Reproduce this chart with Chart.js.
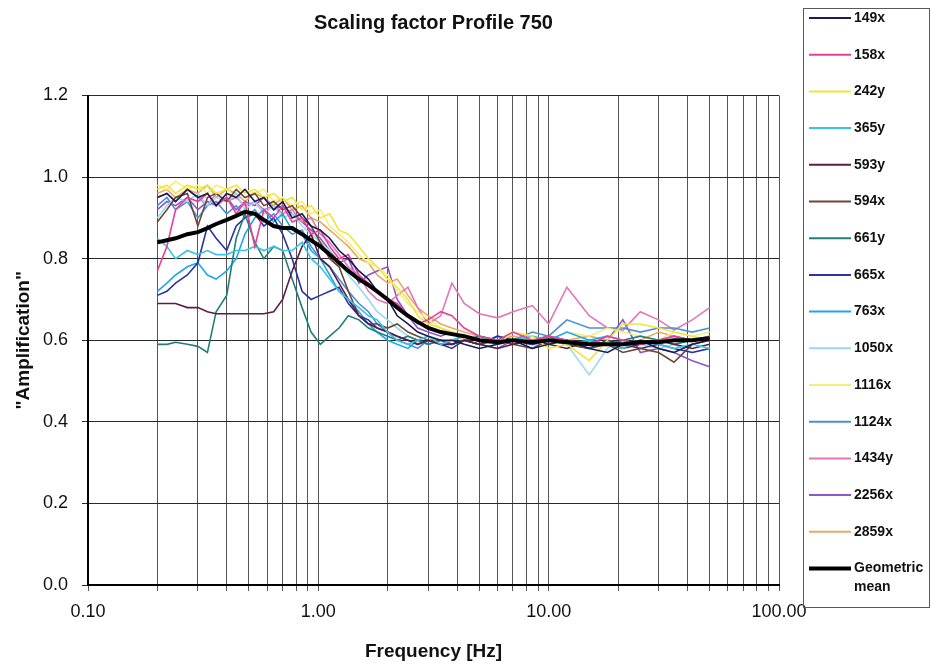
<!DOCTYPE html>
<html>
<head>
<meta charset="utf-8">
<title>Scaling factor Profile 750</title>
<script src="https://cdn.jsdelivr.net/npm/chart.js@4.4.1/dist/chart.umd.min.js"></script>
<style>
  html, body { margin: 0; padding: 0; background: #fff; }
  #wrap { position: relative; width: 931px; height: 666px; }
</style>
</head>
<body>
<div id="wrap"><canvas id="profileChart"></canvas></div>
<script>
// frequencies shared by every record [Hz]
const freq = [0.20,0.22,0.24,0.27,0.30,0.33,0.36,0.40,0.44,0.48,
  0.53,0.58,0.64,0.70,0.77,0.85,0.93,1.02,1.12,1.23,
  1.35,1.5,1.65,1.8,2.0,2.2,2.45,2.7,3.0,3.4,
  3.8,4.3,5.0,6.0,7.0,8.5,10,12,15,18,
  21,25,30,35,42,50];

const seriesNames = ['149x','158x','242y','365y','593y','594x','661y','665x',
  '763x','1050x','1116x','1124x','1434y','2256x','2859x'];

// amplification per record
const s149x = [0.95,0.96,0.94,0.97,0.95,0.96,0.93,0.96,0.95,0.97,
  0.94,0.95,0.92,0.94,0.90,0.91,0.88,0.87,0.85,0.82,
  0.80,0.77,0.75,0.72,0.70,0.66,0.64,0.62,0.61,0.60,
  0.60,0.59,0.58,0.59,0.60,0.58,0.59,0.60,0.58,0.57,
  0.59,0.60,0.58,0.57,0.59,0.60];
const s158x = [0.77,0.83,0.92,0.95,0.94,0.96,0.93,0.95,0.91,0.94,
  0.83,0.92,0.90,0.93,0.89,0.90,0.86,0.87,0.83,0.80,
  0.81,0.76,0.74,0.72,0.70,0.69,0.66,0.64,0.65,0.67,
  0.66,0.63,0.61,0.60,0.62,0.60,0.61,0.60,0.59,0.61,
  0.60,0.59,0.60,0.61,0.60,0.61];
const s242y = [0.97,0.98,0.96,0.98,0.97,0.98,0.96,0.97,0.98,0.96,
  0.97,0.95,0.96,0.94,0.95,0.92,0.93,0.90,0.91,0.87,
  0.86,0.83,0.80,0.78,0.75,0.73,0.70,0.66,0.64,0.63,
  0.62,0.61,0.60,0.59,0.62,0.61,0.58,0.59,0.55,0.60,
  0.64,0.64,0.63,0.62,0.61,0.60];
const s365y = [0.85,0.83,0.80,0.82,0.81,0.82,0.81,0.81,0.82,0.82,
  0.83,0.82,0.83,0.82,0.82,0.84,0.80,0.78,0.75,0.72,
  0.70,0.68,0.66,0.65,0.62,0.60,0.59,0.60,0.61,0.59,
  0.60,0.61,0.60,0.59,0.60,0.61,0.60,0.59,0.60,0.59,
  0.58,0.60,0.59,0.58,0.59,0.58];
const s593y = [0.69,0.69,0.69,0.68,0.68,0.67,0.665,0.665,0.665,0.665,
  0.665,0.665,0.67,0.70,0.77,0.83,0.86,0.80,0.78,0.74,
  0.70,0.66,0.64,0.63,0.62,0.61,0.60,0.59,0.60,0.59,
  0.59,0.60,0.59,0.58,0.59,0.60,0.59,0.58,0.60,0.59,
  0.58,0.59,0.60,0.59,0.58,0.59];
const s594x = [0.89,0.92,0.95,0.96,0.88,0.95,0.96,0.94,0.97,0.95,
  0.96,0.93,0.94,0.92,0.93,0.90,0.88,0.84,0.80,0.78,
  0.72,0.66,0.64,0.64,0.63,0.64,0.62,0.61,0.60,0.60,
  0.59,0.60,0.59,0.60,0.59,0.58,0.60,0.59,0.58,0.59,
  0.57,0.58,0.57,0.546,0.59,0.60];
const s661y = [0.59,0.59,0.595,0.59,0.585,0.57,0.67,0.71,0.85,0.91,
  0.84,0.80,0.83,0.82,0.75,0.68,0.62,0.59,0.61,0.63,
  0.66,0.65,0.63,0.62,0.61,0.60,0.61,0.60,0.59,0.60,
  0.59,0.60,0.61,0.60,0.59,0.60,0.61,0.59,0.60,0.59,
  0.60,0.61,0.60,0.59,0.60,0.60];
const s665x = [0.71,0.72,0.74,0.76,0.79,0.88,0.85,0.82,0.88,0.90,
  0.91,0.88,0.90,0.86,0.80,0.72,0.70,0.71,0.72,0.73,
  0.69,0.66,0.65,0.63,0.62,0.61,0.60,0.59,0.60,0.59,
  0.58,0.60,0.59,0.61,0.60,0.59,0.60,0.59,0.58,0.60,
  0.59,0.58,0.59,0.58,0.57,0.58];
const s763x = [0.72,0.74,0.76,0.78,0.79,0.76,0.75,0.77,0.80,0.86,
  0.90,0.92,0.89,0.91,0.87,0.86,0.82,0.80,0.76,0.72,
  0.70,0.67,0.64,0.62,0.60,0.59,0.58,0.60,0.59,0.60,
  0.59,0.60,0.59,0.61,0.60,0.59,0.60,0.62,0.60,0.61,
  0.60,0.59,0.60,0.61,0.60,0.61];
const s1050x = [0.90,0.93,0.95,0.94,0.96,0.93,0.95,0.94,0.96,0.92,
  0.94,0.91,0.93,0.90,0.91,0.88,0.86,0.84,0.82,0.79,
  0.76,0.73,0.70,0.67,0.65,0.63,0.61,0.60,0.61,0.60,
  0.59,0.60,0.61,0.59,0.60,0.58,0.61,0.59,0.515,0.58,
  0.60,0.59,0.58,0.59,0.57,0.58];
const s1116x = [0.98,0.97,0.99,0.97,0.98,0.96,0.98,0.97,0.95,0.97,
  0.96,0.97,0.94,0.95,0.93,0.94,0.91,0.92,0.88,0.86,
  0.84,0.81,0.79,0.78,0.76,0.72,0.69,0.67,0.65,0.63,
  0.62,0.60,0.61,0.60,0.62,0.61,0.60,0.62,0.61,0.63,
  0.62,0.61,0.60,0.62,0.61,0.62];
const s1124x = [0.93,0.95,0.92,0.94,0.90,0.93,0.94,0.91,0.93,0.90,
  0.92,0.89,0.91,0.88,0.86,0.87,0.83,0.80,0.78,0.75,
  0.72,0.69,0.67,0.64,0.62,0.60,0.59,0.58,0.60,0.59,
  0.60,0.61,0.60,0.59,0.60,0.62,0.61,0.65,0.63,0.63,
  0.63,0.62,0.63,0.63,0.62,0.63];
const s1434y = [0.95,0.96,0.94,0.97,0.95,0.93,0.96,0.94,0.95,0.93,
  0.94,0.92,0.93,0.91,0.92,0.89,0.90,0.86,0.84,0.81,
  0.78,0.76,0.72,0.70,0.69,0.71,0.73,0.68,0.64,0.66,
  0.74,0.69,0.665,0.655,0.67,0.685,0.64,0.73,0.66,0.63,
  0.625,0.67,0.65,0.625,0.65,0.68];
const s2256x = [0.92,0.94,0.93,0.95,0.92,0.94,0.93,0.95,0.92,0.94,
  0.93,0.95,0.92,0.93,0.91,0.89,0.87,0.85,0.82,0.79,
  0.80,0.74,0.76,0.77,0.78,0.70,0.66,0.63,0.62,0.61,
  0.62,0.60,0.59,0.58,0.60,0.59,0.61,0.60,0.58,0.60,
  0.65,0.57,0.58,0.57,0.55,0.535];
const s2859x = [0.96,0.97,0.95,0.97,0.96,0.98,0.95,0.97,0.96,0.94,
  0.96,0.95,0.93,0.95,0.92,0.93,0.90,0.89,0.87,0.85,
  0.83,0.80,0.79,0.76,0.74,0.75,0.71,0.68,0.66,0.64,
  0.63,0.62,0.61,0.60,0.61,0.60,0.59,0.60,0.61,0.60,
  0.59,0.60,0.62,0.61,0.60,0.61];

// geometric mean of all records
const geoMean = [0.84,0.845,0.85,0.86,0.865,0.875,0.885,0.895,0.905,0.915,
  0.91,0.895,0.88,0.875,0.875,0.86,0.845,0.83,0.81,0.79,
  0.77,0.75,0.735,0.72,0.70,0.68,0.66,0.645,0.63,0.62,
  0.615,0.61,0.60,0.595,0.60,0.595,0.60,0.595,0.59,0.59,
  0.59,0.595,0.595,0.60,0.60,0.605];

const seriesValues = [s149x, s158x, s242y, s365y, s593y, s594x, s661y, s665x,
  s763x, s1050x, s1116x, s1124x, s1434y, s2256x, s2859x];

const seriesColors = ['#1c1c50','#e8409a','#f2e43a','#38c4e6','#5c1c48','#6e4634',
  '#1f7f7c','#2a32a6','#1ea8e8','#9ad8f2','#f4ee7a','#4a8ed6','#e476b8','#8a58c8','#e8a868'];

// log axis grid: 1..9 of every decade
const xGridValues = [0.1,0.2,0.3,0.4,0.5,0.6,0.7,0.8,0.9,
  1,2,3,4,5,6,7,8,9,10,20,30,40,50,60,70,80,90,100];
const xDecades = [0.1, 1, 10, 100];
const xDecadeLabels = ['0.10', '1.00', '10.00', '100.00'];

const FONT = '"Liberation Sans", Arial, sans-serif';

const datasets = seriesNames.map((name, i) => ({
  label: name,
  data: freq.map((f, k) => ({ x: f, y: seriesValues[i][k] })),
  borderColor: seriesColors[i],
  borderWidth: 1.6,
  pointRadius: 0,
  tension: 0,
  order: 1
}));
datasets.push({
  label: 'Geometric mean',
  data: freq.map((f, k) => ({ x: f, y: geoMean[k] })),
  borderColor: '#000',
  borderWidth: 4,
  pointRadius: 0,
  tension: 0,
  order: 0
});

// legend box on the right side
const boxLegend = {
  id: 'boxLegend',
  afterDraw(chart) {
    const ctx = chart.ctx;
    ctx.save();
    ctx.strokeStyle = '#5a5a5a';
    ctx.lineWidth = 1;
    ctx.strokeRect(803.5, 8.5, 126, 599);
    ctx.font = 'bold 14px ' + FONT;
    ctx.textBaseline = 'middle';
    chart.data.datasets.forEach((ds, i) => {
      const y = 18 + i * 36.7;
      ctx.strokeStyle = ds.borderColor;
      ctx.lineWidth = ds.borderWidth > 2 ? 4 : 2;
      ctx.beginPath();
      ctx.moveTo(809, y);
      ctx.lineTo(851, y);
      ctx.stroke();
      ctx.fillStyle = '#111';
      ds.label.split(' ').forEach((w, k) => ctx.fillText(w, 854, y + k * 19));
    });
    ctx.restore();
  }
};

new Chart(document.getElementById('profileChart'), {
  type: 'line',
  data: { datasets },
  plugins: [boxLegend],
  options: {
    responsive: true,
    maintainAspectRatio: false,
    animation: false,
    events: [],
    layout: { padding: { left: 0, right: 152, top: 0, bottom: 0 } },
    plugins: {
      legend: { display: false },
      tooltip: { enabled: false },
      title: {
        display: true,
        fullSize: false,
        text: 'Scaling factor Profile 750',
        color: '#111',
        font: { family: FONT, size: 20, weight: 'bold' },
        padding: { top: 11, bottom: 60.5 }
      }
    },
    scales: {
      x: {
        type: 'logarithmic',
        min: 0.1,
        max: 100,
        afterFit: (scale) => { scale.height = 81; },
        afterBuildTicks: (scale) => { scale.ticks = xGridValues.map(v => ({ value: v })); },
        ticks: {
          autoSkip: false,
          maxRotation: 0,
          padding: 10,
          color: '#111',
          font: { family: FONT, size: 18 },
          callback: (v) => {
            const i = xDecades.indexOf(v);
            return i >= 0 ? xDecadeLabels[i] : '';
          }
        },
        grid: { color: '#555', lineWidth: 1, tickLength: 6 },
        border: { color: '#000', width: 2 },
        title: {
          display: true,
          text: 'Frequency [Hz]',
          color: '#111',
          font: { family: FONT, size: 19, weight: 'bold' },
          padding: { top: 0, bottom: 3 }
        }
      },
      y: {
        min: 0,
        max: 1.2,
        afterFit: (scale) => { scale.width = 88; },
        ticks: {
          stepSize: 0.2,
          padding: 14,
          color: '#111',
          font: { family: FONT, size: 18 },
          callback: (v) => v.toFixed(1)
        },
        grid: { color: '#2a2a2a', lineWidth: 1, tickLength: 6 },
        border: { color: '#000', width: 2 },
        title: {
          display: true,
          text: '"Amplification"',
          color: '#111',
          font: { family: FONT, size: 19, weight: 'bold' },
          padding: { top: 12, bottom: 0 }
        }
      }
    }
  }
});
</script>
</body>
</html>
